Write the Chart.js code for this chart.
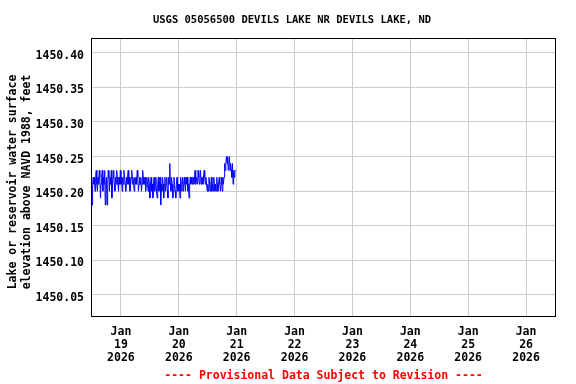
<!DOCTYPE html>
<html lang="en">
<head>
    <meta charset="UTF-8">
    <title>USGS 05056500 Devils Lake</title>
    <script src="https://cdn.jsdelivr.net/npm/chart.js@4.4.1/dist/chart.umd.min.js"></script>
    <style>
        body {
            margin: 0;
            padding: 0;
            background-color: white;
        }
        canvas {
            display: block;
        }
    </style>
</head>
<body>
    <canvas id="lakeChart" width="576" height="384"></canvas>

    <script>
        const chartTitle = 'USGS 05056500 DEVILS LAKE NR DEVILS LAKE, ND';
        const yTitle = ['Lake or reservoir water surface', 'elevation above NAVD 1988, feet'];
        const footerText = '---- Provisional Data Subject to Revision ----';

        // x positions are days relative to Jan 19 2026 00:00
        const tickDays = [0, 1, 2, 3, 4, 5, 6, 7];
        const monthLabel = 'Jan';
        const dayLabels = ['19', '20', '21', '22', '23', '24', '25', '26'];
        const yearLabel = '2026';
        const yTicks = [1450.05, 1450.10, 1450.15, 1450.20, 1450.25, 1450.30, 1450.35, 1450.40];

        // 15-minute readings starting Jan 18 12:00
        const startDay = -0.5;
        const stepDay = 1 / 96;
        const levels = [
            1450.18, 1450.21, 1450.22, 1450.21, 1450.22, 1450.20, 1450.22, 1450.23, 1450.21, 1450.20, 1450.22, 1450.21,
            1450.23, 1450.22, 1450.19, 1450.21, 1450.22, 1450.23, 1450.20, 1450.22, 1450.21, 1450.23, 1450.18, 1450.21,
            1450.22, 1450.18, 1450.21, 1450.23, 1450.22, 1450.20, 1450.22, 1450.21, 1450.23, 1450.19, 1450.21, 1450.22,
            1450.23, 1450.21, 1450.20, 1450.22, 1450.21, 1450.23, 1450.22, 1450.21, 1450.20, 1450.22, 1450.21, 1450.23,
            1450.21, 1450.22, 1450.20, 1450.22, 1450.21, 1450.23, 1450.22, 1450.21, 1450.20, 1450.22, 1450.21, 1450.22,
            1450.23, 1450.21, 1450.22, 1450.20, 1450.21, 1450.22, 1450.23, 1450.21, 1450.22, 1450.21, 1450.20, 1450.22,
            1450.21, 1450.22, 1450.21, 1450.23, 1450.22, 1450.20, 1450.21, 1450.22, 1450.21, 1450.22, 1450.20, 1450.21,
            1450.23, 1450.22, 1450.21, 1450.21, 1450.22, 1450.20, 1450.21, 1450.22, 1450.21, 1450.20, 1450.22, 1450.21,
            1450.19, 1450.21, 1450.22, 1450.20, 1450.21, 1450.19, 1450.21, 1450.22, 1450.20, 1450.21, 1450.22, 1450.20,
            1450.19, 1450.21, 1450.22, 1450.20, 1450.21, 1450.22, 1450.18, 1450.21, 1450.20, 1450.22, 1450.21, 1450.19,
            1450.21, 1450.22, 1450.20, 1450.21, 1450.22, 1450.20, 1450.19, 1450.22, 1450.21, 1450.24, 1450.21, 1450.20,
            1450.22, 1450.21, 1450.19, 1450.20, 1450.22, 1450.21, 1450.20, 1450.19, 1450.21, 1450.22, 1450.20, 1450.21,
            1450.20, 1450.21, 1450.19, 1450.22, 1450.20, 1450.21, 1450.22, 1450.20, 1450.21, 1450.22, 1450.21, 1450.20,
            1450.22, 1450.21, 1450.22, 1450.20, 1450.21, 1450.19, 1450.21, 1450.22, 1450.21, 1450.22, 1450.21, 1450.22,
            1450.22, 1450.21, 1450.22, 1450.23, 1450.21, 1450.22, 1450.22, 1450.21, 1450.23, 1450.22, 1450.21, 1450.22,
            1450.23, 1450.21, 1450.22, 1450.22, 1450.21, 1450.22, 1450.23, 1450.22, 1450.21, 1450.22, 1450.21, 1450.20,
            1450.21, 1450.20, 1450.22, 1450.21, 1450.20, 1450.21, 1450.22, 1450.20, 1450.21, 1450.20, 1450.22, 1450.21,
            1450.20, 1450.21, 1450.20, 1450.22, 1450.21, 1450.20, 1450.21, 1450.22, 1450.21, 1450.20, 1450.21, 1450.22,
            1450.20, 1450.22, 1450.21, 1450.22, 1450.24, 1450.23, 1450.24, 1450.25, 1450.24, 1450.25, 1450.23, 1450.24,
            1450.25, 1450.23, 1450.24, 1450.23, 1450.22, 1450.24, 1450.21, 1450.23, 1450.22, 1450.23, 1450.23, 1450.23
        ];

        const FONT = '"DejaVu Sans Mono", "Liberation Mono", monospace';

        const points = levels.map((v, i) => ({ x: startDay + i * stepDay, y: v }));

        // frame, titles, y labels and footer
        const framePlugin = {
            id: 'frame',
            afterDraw(chart) {
                const ctx = chart.ctx;
                const a = chart.chartArea;
                const yScale = chart.scales.y;
                ctx.save();
                ctx.strokeStyle = '#000000';
                ctx.lineWidth = 1;
                ctx.strokeRect(a.left - 0.5, a.top - 0.5, a.right - a.left + 1, a.bottom - a.top + 1);

                ctx.fillStyle = '#000000';
                ctx.textBaseline = 'middle';

                ctx.textAlign = 'center';
                ctx.font = 'bold 10.5px ' + FONT;
                ctx.fillText(chartTitle, 292, 20);

                ctx.textAlign = 'right';
                ctx.font = 'bold 11.5px ' + FONT;
                yTicks.forEach(v => {
                    ctx.fillText(v.toFixed(2), 84, yScale.getPixelForValue(v) + 3);
                });

                ctx.save();
                ctx.translate(13, 182);
                ctx.rotate(-Math.PI / 2);
                ctx.textAlign = 'center';
                ctx.fillText(yTitle[0], 0, 0);
                ctx.fillText(yTitle[1], 0, 14);
                ctx.restore();

                ctx.textAlign = 'center';
                ctx.fillStyle = '#ff0000';
                ctx.fillText(footerText, (a.left + a.right) / 2, 376);
                ctx.restore();
            }
        };

        const ctx = document.getElementById('lakeChart').getContext('2d');
        new Chart(ctx, {
            type: 'line',
            data: {
                datasets: [{
                    data: points,
                    borderColor: '#0000ff',
                    borderWidth: 1,
                    pointRadius: 0,
                    tension: 0,
                    fill: false
                }]
            },
            options: {
                responsive: false,
                animation: false,
                layout: {
                    padding: { left: 0, right: 21, top: 39, bottom: 0 }
                },
                plugins: {
                    legend: { display: false },
                    tooltip: { enabled: false }
                },
                scales: {
                    x: {
                        type: 'linear',
                        min: -0.5,
                        max: 7.5,
                        afterBuildTicks: (scale) => {
                            scale.ticks = tickDays.map(v => ({ value: v }));
                        },
                        afterFit: (scale) => {
                            scale.height = 68;
                        },
                        grid: {
                            color: '#cccccc',
                            drawTicks: false
                        },
                        border: { display: false },
                        ticks: {
                            color: '#000000',
                            padding: 9,
                            maxRotation: 0,
                            autoSkip: false,
                            font: { family: FONT, size: 11.5, weight: 'bold', lineHeight: 13.2 / 11.5 },
                            callback: (value) => {
                                const i = tickDays.indexOf(value);
                                return i < 0 ? '' : [monthLabel, dayLabels[i], yearLabel];
                            }
                        }
                    },
                    y: {
                        min: 1450.0195,
                        max: 1450.42,
                        afterBuildTicks: (scale) => {
                            scale.ticks = yTicks.map(v => ({ value: v }));
                        },
                        afterFit: (scale) => {
                            scale.width = 92;
                        },
                        grid: {
                            color: '#cccccc',
                            drawTicks: false
                        },
                        border: { display: false },
                        ticks: {
                            display: false
                        }
                    }
                }
            },
            plugins: [framePlugin]
        });
    </script>
</body>
</html>
